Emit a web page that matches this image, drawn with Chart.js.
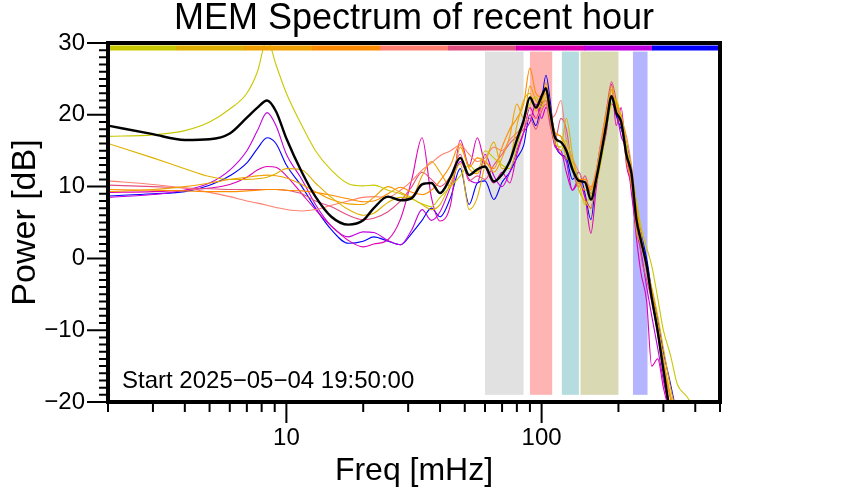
<!DOCTYPE html>
<html>
<head>
<meta charset="utf-8">
<script src="https://cdn.jsdelivr.net/npm/chart.js@4.4.1/dist/chart.umd.min.js"></script>
<style>
  html, body { margin: 0; padding: 0; background: #fff; }
</style>
</head>
<body>
<canvas id="memChart" width="842" height="500"></canvas>
<script>
const chartTitle = 'MEM Spectrum of recent hour';
const startLabel = 'Start 2025\u221205\u221204 19:50:00';
const fontFamily = '"Liberation Sans", Arial, Helvetica, sans-serif';

// frequency grid [mHz]
const freqs = [2, 3, 4, 5, 6, 7, 7.7, 8.4, 9.1, 10,
  11.5, 13, 15, 17.5, 20, 22, 25, 28, 31, 34,
  37, 40, 44, 48, 52, 56, 60, 65, 70, 75,
  80, 85, 90, 95, 100, 104, 108, 113, 119, 125,
  132, 140, 148, 156, 164, 172, 180, 188, 196, 205,
  215, 225, 235, 245, 258, 270, 285, 300, 320, 340,
  370, 400];

// power [dB], one array per 6-minute spectrum, plus the mean
const meanPower = [18.5, 17.3, 16.5, 16.6, 17.4, 19.6, 21.0, 22.0, 20.5, 16.7,
  12.0, 8.6, 5.8, 4.7, 5.3, 7.0, 8.6, 8.1, 8.4, 10.3,
  10.5, 9.1, 11.3, 14.0, 11.6, 12.4, 12.8, 10.7, 11.7, 13.5,
  16.5, 19.2, 22.4, 21.0, 22.6, 23.7, 20.5, 16.8, 16.2, 15.0,
  12.4, 10.8, 10.6, 8.2, 11.2, 15.0, 19.0, 22.6, 20.3, 19.0,
  14.4, 11.8, 5.5, 2.5, -1.0, -5.5, -10.2, -15.5, -22, null,
  null, null];
const power1 = [17.0, 17.2, 17.8, 19.0, 20.8, 23.0, 26.0, 30.5, 27.0, 23.0,
  18.5, 15.0, 12.3, 10.4, 10.1, 10.2, 9.5, 9.0, 8.3, 7.6,
  7.2, 8.5, 10.0, 11.5, 13.0, 12.0, 15.0, 14.0, 13.0, 12.5,
  15.5, 19.0, 21.5, 22.5, 21.0, 22.5, 20.0, 17.0, 15.0, 16.5,
  13.0, 10.5, 7.5, 9.0, 10.5, 14.0, 18.5, 21.5, 22.0, 19.5,
  16.0, 12.0, 8.0, 4.5, 1.5, -1.0, -5.5, -10.0, -13.5, -17.5,
  -19.2, -21];
const power2 = [16.0, 14.0, 12.5, 11.4, 11.0, 11.0, 11.1, 11.3, 11.8, 12.5,
  12.3, 10.5, 8.5, 6.8, 6.0, 6.3, 7.8, 8.5, 8.3, 7.5,
  6.8, 7.5, 10.5, 13.2, 6.8, 8.5, 13.0, 16.2, 12.5, 13.5,
  18.5, 22.0, 23.0, 20.5, 22.0, 23.0, 19.5, 16.0, 15.5, 19.5,
  14.5, 9.5, 8.0, 7.0, 12.0, 16.0, 20.0, 24.0, 21.0, 18.5,
  15.0, 12.5, 4.0, 2.0, -1.0, -4.5, -9.0, -14.0, -19.0, -22,
  null, null];
const power3 = [9.3, 9.6, 10.0, 10.5, 11.0, 11.3, 11.5, 11.6, 11.5, 11.2,
  10.3, 9.3, 8.2, 7.6, 7.5, 8.5, 10.0, 9.2, 8.6, 11.5,
  13.5, 12.0, 10.0, 15.5, 12.5, 11.8, 13.5, 12.0, 14.0, 17.0,
  21.5, 19.5, 24.0, 22.0, 21.5, 24.5, 21.0, 17.5, 17.0, 14.0,
  13.5, 11.0, 9.5, 9.8, 11.5, 14.5, 18.5, 23.5, 21.5, 20.0,
  16.0, 10.0, 6.5, 3.5, -1.5, -4.0, -8.0, -12.5, -18.0, -22,
  null, null];
const power4 = [9.6, 9.5, 9.4, 9.3, 9.3, 9.4, 9.5, 9.6, 9.6, 9.5,
  9.4, 9.2, 8.8, 8.3, 7.9, 8.0, 9.0, 9.9, 9.2, 8.9,
  9.5, 10.8, 13.0, 16.0, 12.7, 14.0, 13.5, 12.5, 15.5, 18.0,
  19.5, 21.5, 26.5, 23.0, 22.5, 23.0, 20.5, 17.5, 17.0, 15.5,
  12.5, 11.0, 11.0, 9.5, 12.0, 16.0, 20.5, 22.5, 22.0, 19.5,
  13.5, 11.0, 7.5, 3.0, -1.0, -5.0, -9.5, -14.0, -19.5, -22,
  null, null];
const power5 = [10.8, 10.3, 9.8, 9.2, 8.6, 8.0, 7.7, 7.4, 7.1, 6.8,
  6.6, 6.8, 7.4, 8.0, 8.5, 8.6, 8.5, 9.5, 10.8, 12.3,
  13.3, 14.3, 15.0, 15.8, 14.5, 13.5, 14.0, 15.5, 15.0, 16.5,
  17.5, 18.5, 20.0, 19.5, 21.0, 22.0, 19.5, 20.0, 22.0, 16.5,
  14.0, 12.0, 10.5, 10.0, 12.5, 17.0, 20.5, 23.5, 21.0, 19.5,
  17.0, 13.0, 7.0, 3.0, -2.0, -5.5, -10.0, -15.0, -19.5, -22,
  null, null];
const power6 = [10.2, 10.0, 9.8, 9.7, 9.6, 9.6, 9.6, 9.6, 9.6, 9.5,
  9.0, 8.0, 7.2, 6.0, 5.4, 5.6, 6.5, 8.0, 10.0, 12.0,
  11.0, 10.0, 11.5, 14.5, 10.8, 11.5, 11.0, 13.0, 14.5, 16.0,
  17.0, 18.0, 19.5, 18.0, 20.5, 21.5, 18.5, 16.5, 19.5, 18.0,
  12.5, 10.0, 11.5, 9.0, 11.5, 16.5, 21.0, 24.6, 22.0, 18.5,
  15.5, 12.0, 7.5, 0.5, -3.0, -6.0, -10.5, -16.0, -20.5, -22,
  null, null];
const power7 = [9.2, 9.3, 9.5, 9.8, 10.3, 11.3, 12.3, 12.8, 12.7, 11.5,
  9.0, 6.8, 4.5, 2.5, 1.6, 2.0, 2.6, 5.5, 11.0, 16.8,
  8.5, 5.2, 7.5, 16.5, 12.9, 16.8, 13.0, 10.5, 12.0, 10.5,
  14.5, 17.5, 21.0, 19.5, 21.5, 22.0, 19.0, 15.5, 15.0, 12.0,
  9.5, 10.5, 8.5, 3.5, 10.0, 14.5, 18.0, 24.3, 18.5, 21.0,
  13.0, 10.0, 3.0, -2.0, -6.0, -15.0, -14.0, -18.0, -22, null,
  null, null];
const power8 = [8.5, 8.9, 9.5, 10.5, 12.3, 15.0, 17.8, 20.3, 18.5, 14.5,
  11.0, 7.5, 4.5, 3.0, 3.7, 3.6, 2.5, 1.9, 4.0, 6.8,
  5.3, 6.5, 10.0, 13.5, 11.0, 10.5, 14.5, 11.5, 10.0, 12.0,
  15.0, 17.5, 19.0, 21.5, 19.5, 21.0, 20.0, 16.0, 14.5, 13.5,
  9.5, 11.0, 8.5, 7.0, 12.0, 16.0, 19.5, 21.5, 20.5, 17.0,
  15.0, 9.0, 4.0, 1.0, -4.0, -8.0, -12.5, -17.0, -22, null,
  null, null];
const power9 = [8.7, 9.0, 9.3, 10.2, 11.5, 13.3, 15.3, 16.8, 16.0, 13.0,
  10.0, 7.0, 4.0, 2.1, 2.4, 3.0, 2.4, 1.9, 3.5, 5.3,
  7.0, 5.8, 8.5, 12.5, 7.5, 10.5, 10.8, 8.2, 10.6, 12.0,
  14.0, 15.7, 20.0, 18.5, 22.0, 25.5, 22.0, 16.0, 14.5, 14.0,
  11.0, 12.0, 9.0, 5.4, 12.0, 16.5, 19.0, 22.3, 19.9, 18.0,
  16.0, 12.5, 6.5, 3.5, 0.0, -4.5, -8.5, -13.0, -17.5, -22,
  null, null];

const seriesValues = [power1, power2, power3, power4, power5, power6, power7, power8, power9];
const seriesColors = ['#c8c800', '#e0b000', '#f0a000', '#ff8c00', '#ff8070', '#e05080', '#e000b4', '#c000e0', '#0000ff'];

// shaded frequency bands [mHz]
const bandLow = [60, 90, 120, 142, 228];
const bandHigh = [85, 110, 140, 200, 260];
const bandColors = ['#e1e1e1', '#ffb4b4', '#b5dde0', '#d9d9b4', '#b4b4ff'];
const bandTop = 28.8;
const bandBottom = -19.0;

// axes
const xMin = 2, xMax = 500;
const yMin = -20, yMax = 30;
const xTickValues = [2, 3, 4, 5, 6, 7, 8, 9, 10, 20, 30, 40, 50, 60, 70, 80, 90, 100, 200, 300, 400, 500];
const xLabelled = [10, 100];

function toPoints(values) {
    return freqs.map((f, i) => ({ x: f, y: values[i] }));
}

const datasets = [{
    data: toPoints(meanPower),
    borderColor: '#000',
    borderWidth: 2.4
}];
seriesValues.forEach((vals, i) => {
    datasets.push({
        data: toPoints(vals),
        borderColor: seriesColors[i],
        borderWidth: 1.1
    });
});

const bandPlugin = {
    id: 'bands',
    beforeDatasetsDraw(chart) {
        const { ctx, scales: { x, y } } = chart;
        ctx.save();
        bandLow.forEach((lo, i) => {
            const x0 = x.getPixelForValue(lo);
            const x1 = x.getPixelForValue(bandHigh[i]);
            const y0 = y.getPixelForValue(bandTop);
            const y1 = y.getPixelForValue(bandBottom);
            ctx.fillStyle = bandColors[i];
            ctx.fillRect(x0, y0, x1 - x0, y1 - y0);
        });
        ctx.restore();
    }
};

const framePlugin = {
    id: 'frame',
    afterDatasetsDraw(chart) {
        const { ctx, chartArea: a } = chart;
        // colour key of the hourly spectra along the top
        const w = (a.right - a.left) / seriesColors.length;
        ctx.save();
        seriesColors.forEach((c, i) => {
            ctx.fillStyle = c;
            ctx.fillRect(a.left + i * w, a.top + 2.5, w + 0.5, 5);
        });
        ctx.fillStyle = '#000';
        ctx.font = '24px ' + fontFamily;
        ctx.textBaseline = 'alphabetic';
        ctx.fillText(startLabel, a.left + 14, a.bottom - 14);
        ctx.restore();
    },
    afterDraw(chart) {
        const { ctx, chartArea: a, scales: { x, y } } = chart;
        ctx.save();
        ctx.strokeStyle = '#000';
        ctx.lineWidth = 2;
        ctx.beginPath();
        xTickValues.forEach(v => {
            const px = x.getPixelForValue(v);
            const len = xLabelled.includes(v) ? 21 : 10;
            ctx.moveTo(px, a.bottom);
            ctx.lineTo(px, a.bottom + len);
        });
        for (let v = yMin; v <= yMax; v++) {
            const py = y.getPixelForValue(v);
            const len = v % 10 === 0 ? 21 : 9;
            ctx.moveTo(a.left, py);
            ctx.lineTo(a.left - len, py);
        }
        ctx.stroke();
        ctx.lineWidth = 4;
        ctx.strokeRect(a.left, a.top, a.right - a.left, a.bottom - a.top);

        // title centred over the plot area
        ctx.fillStyle = '#000';
        ctx.font = '36px ' + fontFamily;
        ctx.textAlign = 'center';
        ctx.textBaseline = 'alphabetic';
        ctx.fillText(chartTitle, (a.left + a.right) / 2, 29);
        ctx.restore();
    }
};

const ctx = document.getElementById('memChart').getContext('2d');
const memChart = new Chart(ctx, {
    type: 'line',
    data: { datasets },
    options: {
        responsive: false,
        animation: false,
        devicePixelRatio: 1,
        layout: { padding: { left: 0, right: 122, top: 43, bottom: 0 } },
        elements: {
            point: { radius: 0 },
            line: { cubicInterpolationMode: 'monotone' }
        },
        plugins: {
            legend: { display: false },
            tooltip: { enabled: false },
            title: { display: false }
        },
        scales: {
            x: {
                type: 'logarithmic',
                min: xMin,
                max: xMax,
                afterFit(scale) { scale.height = 98; },
                afterBuildTicks(scale) { scale.ticks = xTickValues.map(v => ({ value: v })); },
                grid: { display: false, drawTicks: false },
                border: { display: false },
                ticks: {
                    autoSkip: false,
                    maxRotation: 0,
                    padding: 22,
                    color: '#000',
                    font: { family: fontFamily, size: 24 },
                    callback: v => xLabelled.includes(v) ? String(v) : ''
                },
                title: {
                    display: true,
                    text: 'Freq [mHz]',
                    color: '#000',
                    font: { family: fontFamily, size: 32 },
                    padding: { top: 0, bottom: 10 }
                }
            },
            y: {
                min: yMin,
                max: yMax,
                afterFit(scale) { scale.width = 108; },
                grid: { display: false, drawTicks: false },
                border: { display: false },
                ticks: {
                    stepSize: 10,
                    padding: 23,
                    color: '#000',
                    font: { family: fontFamily, size: 24 },
                    callback: v => v < 0 ? '\u2212' + Math.abs(v) : String(v)
                },
                title: {
                    display: true,
                    text: 'Power [dB]',
                    color: '#000',
                    font: { family: fontFamily, size: 34 },
                    padding: { top: 5, bottom: 0 }
                }
            }
        }
    },
    plugins: [bandPlugin, framePlugin]
});
</script>
</body>
</html>
